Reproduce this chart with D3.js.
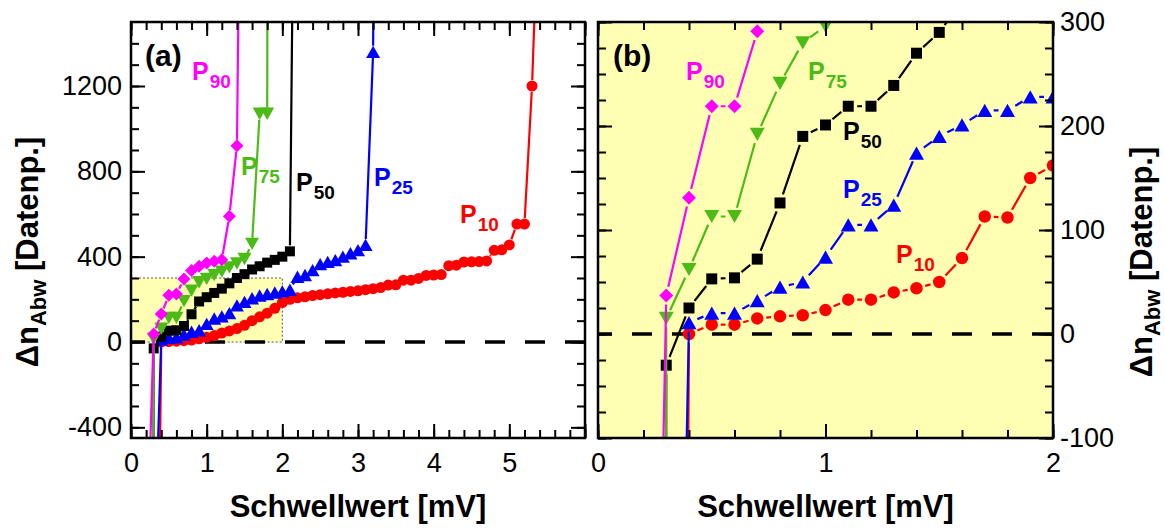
<!DOCTYPE html>
<html><head><meta charset="utf-8">
<script src="https://cdn.jsdelivr.net/npm/d3@7/dist/d3.min.js"></script>
<style>
body{margin:0;background:#fff}
svg{display:block}
text{font-family:"Liberation Sans",Arial,Helvetica,sans-serif}
</style>
</head><body>
<svg id="c" width="1165" height="529"></svg>
<script>
// ---------------- DATA ----------------
const seriesNames = ["P10","P25","P50","P75","P90"];
const seriesSubs  = ["10","25","50","75","90"];

// Panel (a): full range, [Schwellwert mV, Δn]
const a_P90 = [[0.2,-1100],[0.3,38],[0.4,131],[0.5,219],[0.6,225],[0.7,295],[0.8,335],[0.9,355],[1.0,370],[1.1,378],[1.2,385],[1.3,590],[1.4,920],[1.5,4100]];
const a_P75 = [[0.2,-20000],[0.3,15],[0.4,62],[0.5,113],[0.6,113],[0.7,192],[0.8,241],[0.9,280],[1.0,296],[1.1,314],[1.2,330],[1.3,350],[1.4,368],[1.5,389],[1.6,460],[1.7,1070],[1.8,1070],[1.9,20000]];
const a_P50 = [[0.2,-20000],[0.3,-30],[0.4,25],[0.5,53],[0.6,55],[0.7,75],[0.8,130],[0.9,190],[1.0,210],[1.1,230],[1.2,250],[1.3,275],[1.4,300],[1.5,318],[1.6,340],[1.7,355],[1.8,372],[1.9,385],[2.0,400],[2.1,425],[2.2,4000]];
const a_P25 = [[0.3,-1100],[0.4,11],[0.5,20],[0.6,22],[0.7,35],[0.8,48],[0.9,55],[1.0,85],[1.1,110],[1.2,120],[1.3,135],[1.4,172],[1.5,188],[1.6,205],[1.7,218],[1.8,225],[1.9,232],[2.0,237],[2.1,245],[2.2,306],[2.3,314],[2.4,337],[2.5,365],[2.6,376],[2.7,384],[2.8,400],[2.9,416],[3.0,431],[3.1,455],[3.2,1360],[3.3,10000]];
const a_P10 = [[0.3,-3000],[0.4,0],[0.5,2],[0.6,4],[0.7,6],[0.8,9],[0.9,15],[1.0,22],[1.1,30],[1.2,42],[1.3,52],[1.4,63],[1.5,78],[1.6,100],[1.7,118],[1.8,135],[1.9,158],[2.0,185],[2.1,200],[2.2,207],[2.3,212],[2.4,218],[2.5,222],[2.6,226],[2.7,230],[2.8,233],[2.9,237],[3.0,240],[3.1,245],[3.2,250],[3.3,255],[3.4,267],[3.5,268],[3.6,290],[3.7,290],[3.8,298],[3.9,312],[4.0,314],[4.1,316],[4.2,358],[4.3,360],[4.4,375],[4.5,376],[4.6,377],[4.7,380],[4.8,430],[4.9,432],[5.0,455],[5.1,553],[5.2,553],[5.3,1200],[5.4,2200]];

// Panel (b): zoom 0–2 mV
const b_P90 = [[0.2,-1100],[0.3,37],[0.4,131],[0.5,219],[0.6,219],[0.7,291],[0.8,335]];
const b_P75 = [[0.2,-20000],[0.3,15],[0.4,62],[0.5,113],[0.6,113],[0.7,192],[0.8,241],[0.9,280],[1.0,296],[1.1,314]];
const b_P50 = [[0.2,-20000],[0.3,-30],[0.4,25],[0.5,53],[0.6,54],[0.7,72],[0.8,126],[0.9,190],[1.0,201],[1.1,219],[1.2,219],[1.3,239],[1.4,270],[1.5,290],[1.6,320]];
const b_P25 = [[0.3,-1100],[0.4,11],[0.5,20],[0.6,20],[0.7,32],[0.8,45],[0.9,50],[1.0,74],[1.1,105],[1.2,105],[1.3,124],[1.4,174],[1.5,190],[1.6,201],[1.7,215],[1.8,215],[1.9,228],[2.0,228],[2.1,240]];
const b_P10 = [[0.3,-3000],[0.4,0],[0.5,9],[0.6,9],[0.7,15],[0.8,17],[0.9,18],[1.0,23],[1.1,33],[1.2,33],[1.3,40],[1.4,44],[1.5,50],[1.6,73],[1.7,113],[1.8,112],[1.9,150],[2.0,162],[2.1,180]];

// inset region marked in panel (a)
const insetX = [0, 2];
const insetY = [0, 300];

// axis domains and ticks
const aXDomain = [0, 6],  aYDomain = [-450, 1500];
const bXDomain = [0, 2],  bYDomain = [-100, 300];
const aXTicks = [0,1,2,3,4,5,6], aXLabels = ["0","1","2","3","4","5",""];
const aXMinor = d3.range(0, 6.001, 0.2);
const aYTicks = [-400,0,400,800,1200], aYLabels = ["-400","0","400","800","1200"];
const aYMinor = d3.range(-400, 1401, 100);
const bXTicks = [0,1,2], bXLabels = ["0","1","2"];
const bXMinor = d3.range(0, 2.001, 0.2);
const bYTicks = [-100,0,100,200,300], bYLabels = ["-100","0","100","200","300"];
const bYMinor = d3.range(-100, 301, 25);

const xTitle = "Schwellwert [mV]";
const yTitleMain = "\u0394n", yTitleSub = "Abw", yTitleRest = " [Datenp.]";

// ---------------- STYLE ----------------
const colors = {P10:"#ff0000", P25:"#0000ff", P50:"#000000", P75:"#4cbb17", P90:"#ff00ff"};
const shapes = {P10:"circle", P25:"triUp", P50:"square", P75:"triDown", P90:"diamond"};
const yellow = "#ffffb4";

const svg = d3.select("#c");
const FONT = '"Liberation Sans",Arial,Helvetica,sans-serif';

function markerPath(shape, s) {
  const h = s/2;
  switch(shape) {
    case "square":  return `M${-h},${-h}H${h}V${h}H${-h}Z`;
    case "diamond": return `M0,${-h}L${h},0L0,${h}L${-h},0Z`;
    case "triUp":   { const t = s*0.44; return `M0,${-t}L${h},${t}L${-h},${t}Z`; }
    case "triDown": { const t = s*0.44; return `M0,${t}L${h},${-t}L${-h},${-t}Z`; }
    case "circle":  return d3.symbol(d3.symbolCircle, Math.PI*h*h)();
  }
}

function drawPanel(cfg) {
  const g = svg.append("g");
  const xs = d3.scaleLinear(cfg.xDomain, cfg.xRange);
  const ys = d3.scaleLinear(cfg.yDomain, cfg.yRange);
  const [X0, X1] = cfg.xRange, [Y1, Y0] = cfg.yRange;
  const clipId = "clip" + cfg.id;
  svg.append("defs").append("clipPath").attr("id", clipId)
    .append("rect").attr("x", X0).attr("y", Y0).attr("width", X1-X0).attr("height", Y1-Y0);

  if (cfg.bg) g.append("rect").attr("x", X0).attr("y", Y0).attr("width", X1-X0).attr("height", Y1-Y0).attr("fill", cfg.bg);
  if (cfg.inset) {
    g.append("rect")
      .attr("x", xs(cfg.inset.x[0])).attr("y", ys(cfg.inset.y[1]))
      .attr("width", xs(cfg.inset.x[1]) - xs(cfg.inset.x[0]))
      .attr("height", ys(cfg.inset.y[0]) - ys(cfg.inset.y[1]))
      .attr("fill", yellow).attr("stroke", "#555").attr("stroke-width", 1).attr("stroke-dasharray", "2,2");
  }
  g.append("line").attr("x1", X0).attr("x2", X1).attr("y1", ys(0)).attr("y2", ys(0))
    .attr("stroke", "#000").attr("stroke-width", 3.5).attr("stroke-dasharray", "20,20").attr("stroke-dashoffset", 6);

  const dg = g.append("g").attr("clip-path", `url(#${clipId})`);
  cfg.series.forEach(s => {
    const pts = s.data.map(d => [xs(d[0]), ys(d[1])]);
    let dstr = "";
    for (let i = 0; i < pts.length-1; i++) {
      const p = pts[i], q = pts[i+1];
      const dx = q[0]-p[0], dy = q[1]-p[1];
      const L = Math.hypot(dx, dy);
      const gp = cfg.gap;
      if (L <= 2*gp + 1) continue;
      const ux = dx/L, uy = dy/L;
      dstr += `M${p[0]+ux*gp},${p[1]+uy*gp}L${q[0]-ux*gp},${q[1]-uy*gp}`;
    }
    dg.append("path").attr("d", dstr).attr("fill", "none")
      .attr("stroke", colors[s.name]).attr("stroke-width", cfg.lw);
    const size = cfg.msize[shapes[s.name]];
    dg.selectAll(null).data(s.data.filter(d => d[1] > cfg.yDomain[0]-50 && d[1] < cfg.yDomain[1]+50)).enter()
      .append("path")
      .attr("transform", d => `translate(${xs(d[0])},${ys(d[1])})`)
      .attr("d", markerPath(shapes[s.name], size))
      .attr("fill", colors[s.name]);
  });

  const tickStyle = sel => {
    sel.select(".domain").remove();
    sel.selectAll("line").attr("stroke", "#000").attr("stroke-width", 2);
    sel.selectAll("text").attr("font-family", FONT).attr("font-size", 27).attr("fill", "#000");
  };
  const MJ = 14, MN = 8;
  const mk = (axisFn, scale, vals, labels, size, pad) => {
    const ax = axisFn(scale).tickValues(vals).tickSize(-size).tickPadding(pad);
    ax.tickFormat(labels ? ((d,i) => labels[i]) : () => "");
    return ax;
  };
  g.append("g").attr("transform", `translate(0,${Y1})`).call(mk(d3.axisBottom, xs, cfg.xMinor, null, MN, 0)).call(tickStyle);
  g.append("g").attr("transform", `translate(0,${Y1})`).call(mk(d3.axisBottom, xs, cfg.xTicks, cfg.xLabels, MJ, 15)).call(tickStyle);
  g.append("g").attr("transform", `translate(0,${Y0})`).call(mk(d3.axisTop, xs, cfg.xMinor, null, MN, 0)).call(tickStyle);
  g.append("g").attr("transform", `translate(0,${Y0})`).call(mk(d3.axisTop, xs, cfg.xTicks, null, MJ, 0)).call(tickStyle);
  g.append("g").attr("transform", `translate(${X0},0)`).call(mk(d3.axisLeft, ys, cfg.yMinor, null, MN, 0)).call(tickStyle);
  g.append("g").attr("transform", `translate(${X0},0)`).call(mk(d3.axisLeft, ys, cfg.yTicks, cfg.labelSide === "left" ? cfg.yLabels : null, MJ, 9)).call(tickStyle);
  g.append("g").attr("transform", `translate(${X1},0)`).call(mk(d3.axisRight, ys, cfg.yMinor, null, MN, 0)).call(tickStyle);
  g.append("g").attr("transform", `translate(${X1},0)`).call(mk(d3.axisRight, ys, cfg.yTicks, cfg.labelSide === "right" ? cfg.yLabels : null, MJ, 7)).call(tickStyle);

  g.append("rect").attr("x", X0).attr("y", Y0).attr("width", X1-X0).attr("height", Y1-Y0)
    .attr("fill", "none").attr("stroke", "#000").attr("stroke-width", 2.5);

  g.append("text").attr("x", cfg.tag.x).attr("y", cfg.tag.y).attr("font-size", 30).attr("font-weight", "bold").text(cfg.tag.t);

  cfg.labels.forEach(l => {
    const t = g.append("text").attr("x", l.x).attr("y", l.y).attr("font-weight", "bold")
      .attr("fill", colors[l.name]).attr("font-size", 25);
    t.append("tspan").text("P");
    t.append("tspan").attr("font-size", 19).attr("dx", 1).attr("dy", 8).text(seriesSubs[seriesNames.indexOf(l.name)]);
  });

  g.append("text").attr("x", (X0+X1)/2).attr("y", 517).attr("text-anchor", "middle")
    .attr("font-size", 31).attr("font-weight", "bold").text(xTitle);
  const yt = g.append("text").attr("transform", `translate(${cfg.yTitle.x},${cfg.yTitle.y}) rotate(-90)`)
    .attr("text-anchor", "middle").attr("font-size", 31).attr("font-weight", "bold");
  yt.append("tspan").text(yTitleMain);
  yt.append("tspan").attr("font-size", 22).attr("dy", 8).text(yTitleSub);
  yt.append("tspan").attr("dy", -8).text(yTitleRest);
}

drawPanel({
  id: "a", xDomain: aXDomain, yDomain: aYDomain, xRange: [131, 585], yRange: [438, 22],
  xTicks: aXTicks, xLabels: aXLabels, xMinor: aXMinor,
  yTicks: aYTicks, yLabels: aYLabels, yMinor: aYMinor, labelSide: "left",
  inset: {x: insetX, y: insetY}, bg: null, gap: 6, lw: 2.2,
  msize: {circle: 11, square: 10, triUp: 14, triDown: 14, diamond: 13},
  series: [
    {name:"P10", data:a_P10},{name:"P25", data:a_P25},{name:"P50", data:a_P50},
    {name:"P75", data:a_P75},{name:"P90", data:a_P90}
  ],
  tag: {x: 145, y: 66, t: "(a)"},
  labels: [
    {name:"P90", x:192, y:80},{name:"P75", x:241, y:175},{name:"P50", x:296, y:191},
    {name:"P25", x:374, y:186},{name:"P10", x:460, y:223}
  ],
  yTitle: {x: 38, y: 252}
});

drawPanel({
  id: "b", xDomain: bXDomain, yDomain: bYDomain, xRange: [598, 1053], yRange: [438, 22],
  xTicks: bXTicks, xLabels: bXLabels, xMinor: bXMinor,
  yTicks: bYTicks, yLabels: bYLabels, yMinor: bYMinor, labelSide: "right",
  inset: null, bg: yellow, gap: 9, lw: 2.2,
  msize: {circle: 12.5, square: 11, triUp: 15, triDown: 15, diamond: 14},
  series: [
    {name:"P10", data:b_P10},{name:"P25", data:b_P25},{name:"P50", data:b_P50},
    {name:"P75", data:b_P75},{name:"P90", data:b_P90}
  ],
  tag: {x: 613, y: 66, t: "(b)"},
  labels: [
    {name:"P90", x:686, y:80},{name:"P75", x:808, y:80},{name:"P50", x:843, y:140},
    {name:"P25", x:843, y:198},{name:"P10", x:896, y:263}
  ],
  yTitle: {x: 1152, y: 262}
});
</script>
</body></html>
